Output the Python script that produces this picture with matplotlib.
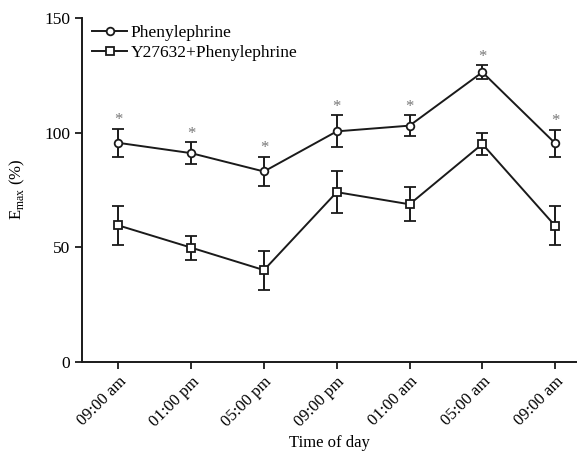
import numpy as np
import matplotlib
matplotlib.use("Agg")
from matplotlib import pyplot as plt
from matplotlib.lines import Line2D

# Data
times = ["09:00 am", "01:00 pm", "05:00 pm", "09:00 pm", "01:00 am", "05:00 am", "09:00 am"]
phe_mean = [95.5, 91, 83, 100.5, 103, 126.3, 95.3]
phe_err = [6, 4.7, 6.5, 7, 4.5, 3, 6]
y27_mean = [59.5, 49.8, 40, 74, 68.7, 95, 59.3]
y27_err = [8.5, 5.2, 8.5, 9, 7.5, 5, 8.5]

plt.rcParams['font.family'] = ['Liberation Serif', 'DejaVu Serif']

fig = plt.figure(figsize=(5.77, 4.58), dpi=100)
ax = fig.add_axes([0.142, 0.21, 0.858, 0.751])

x = np.arange(len(times))
style = dict(color='#1a1a1a', lw=1.4, mfc='white', mec='#1a1a1a', mew=1.3,
             capsize=4, elinewidth=1.4, capthick=1.4)
ax.errorbar(x, phe_mean, yerr=phe_err, marker='o', ms=5.5, **style)
ax.errorbar(x, y27_mean, yerr=y27_err, marker='s', ms=5.2, **style)

# significance asterisks above the phenylephrine error bars
for xi, m, e in zip(x, phe_mean, phe_err):
    ax.text(xi, m + e + 0.3, '*', ha='center', va='bottom', fontsize=12, color='#777777')

ax.set_xlim(-0.5, 6.3)
ax.set_ylim(0, 150)
ax.set_yticks([0, 50, 100, 150])
ax.set_xticks(x)
ax.set_xticklabels(times, rotation=45, ha='right', rotation_mode='anchor', fontsize=12)
ax.tick_params(axis='y', labelsize=12.5)
ax.tick_params(direction='out', length=5, width=1.3, color='#1a1a1a')

for s in ['top', 'right']:
    ax.spines[s].set_visible(False)
for s in ['left', 'bottom']:
    ax.spines[s].set_linewidth(1.4)
    ax.spines[s].set_color('#1a1a1a')

ax.set_xlabel('Time of day', fontsize=12, labelpad=4)
ax.set_ylabel(r'E$_{\mathregular{max}}$ (%)', fontsize=12, labelpad=12)

handles = [
    Line2D([], [], color='#1a1a1a', lw=1.4, marker='o', ms=5.5, mfc='white', mew=1.3),
    Line2D([], [], color='#1a1a1a', lw=1.4, marker='s', ms=5.2, mfc='white', mew=1.3),
]
ax.legend(handles, ['Phenylephrine', 'Y27632+Phenylephrine'], loc='upper left',
          frameon=False, fontsize=12.5, handlelength=2.0, handletextpad=0.2,
          borderaxespad=0.2, labelspacing=0.25, bbox_to_anchor=(0.0, 1.01))

fig.savefig('out.png', dpi=100)
